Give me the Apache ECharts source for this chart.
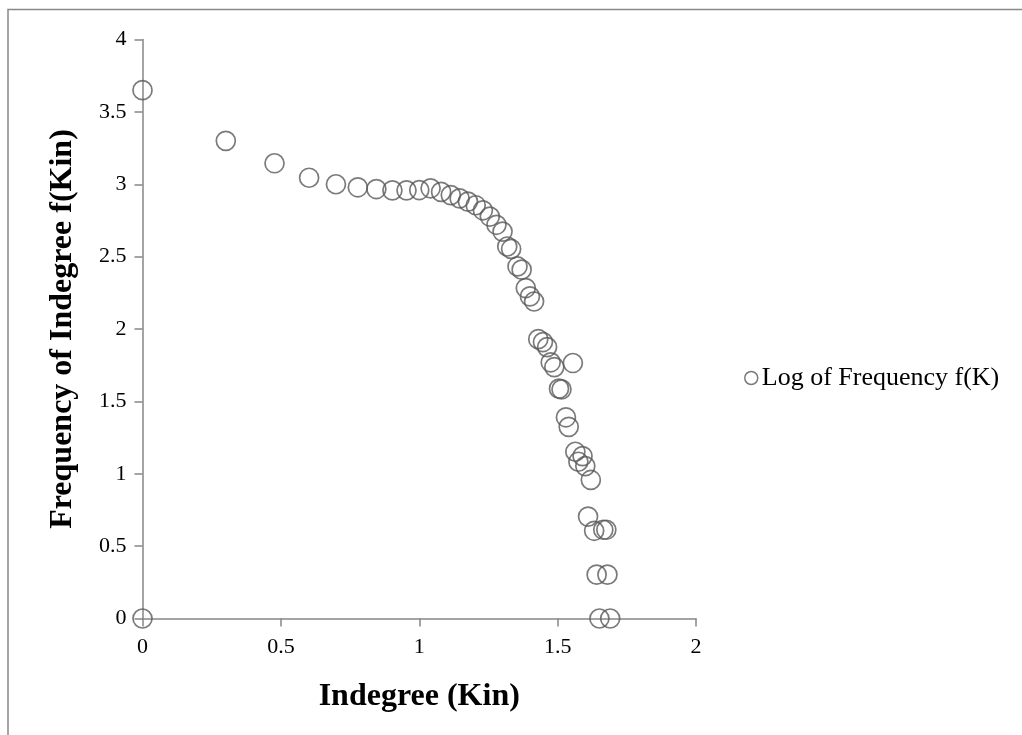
<!DOCTYPE html>
<html>
<head>
<meta charset="utf-8">
<script src="https://cdn.jsdelivr.net/npm/echarts@6/dist/echarts.min.js"></script>
<style>
  html, body { margin: 0; padding: 0; background: #fff; }
  #chart { width: 1022px; height: 735px; }
</style>
</head>
<body>
<div id="chart"></div>
<script>
// log10 of in-degree (Kin)
const indegreeLog = [
  0, 0.301, 0.477, 0.602, 0.699, 0.778, 0.845, 0.903, 0.954, 1.0,
  1.041, 1.079, 1.114, 1.146, 1.176, 1.204, 1.230, 1.255, 1.279, 1.301,
  1.318, 1.332, 1.355, 1.370, 1.385, 1.400, 1.415,
  1.430, 1.447, 1.462, 1.475, 1.488, 1.555, 1.505, 1.514, 1.530, 1.540,
  1.564, 1.590, 1.575, 1.600, 1.620, 1.610, 1.632, 1.665, 1.676, 1.641,
  1.680, 1.651, 1.690, 0
];
// log10 of the frequency of each in-degree
const frequencyLog = [
  3.65, 3.30, 3.145, 3.045, 3.0, 2.979, 2.967, 2.958, 2.958, 2.96,
  2.972, 2.947, 2.925, 2.902, 2.88, 2.855, 2.82, 2.777, 2.72, 2.673,
  2.57, 2.553, 2.432, 2.41, 2.283, 2.225, 2.19,
  1.93, 1.91, 1.875, 1.77, 1.737, 1.765, 1.588, 1.583, 1.39, 1.324,
  1.152, 1.122, 1.083, 1.053, 0.957, 0.704, 0.606, 0.613, 0.613, 0.303,
  0.303, 0, 0, 0
];
const seriesName = 'Log of Frequency f(K)';
const xTitle = 'Indegree (Kin)';
const yTitle = 'Frequency of Indegree f(Kin)';

const points = indegreeLog.map((x, i) => [x, frequencyLog[i]]);

const axisGray = '#868686';
const markGray = '#595959';
const serif = '"Liberation Serif", "Times New Roman", serif';

const chart = echarts.init(document.getElementById('chart'));
chart.setOption({
  backgroundColor: '#ffffff',
  animation: false,
  grid: { left: 142.5, right: 326, top: 39.5, bottom: 116.5 },
  graphic: [{
    type: 'rect',
    shape: { x: 8, y: 9.5, width: 1040, height: 760 },
    style: { fill: 'none', stroke: '#888888', lineWidth: 1.5 },
    silent: true
  }],
  legend: {
    data: [seriesName],
    left: 739,
    top: 360,
    icon: 'circle',
    itemWidth: 13,
    itemHeight: 13,
    itemGap: 2,
    textStyle: { fontFamily: serif, fontSize: 26, color: '#000', padding: [0, 0, 0, -1] },
    itemStyle: { color: 'rgba(0,0,0,0)', borderColor: markGray, borderWidth: 1.5 }
  },
  xAxis: {
    type: 'value',
    min: 0, max: 2, interval: 0.5,
    name: xTitle,
    nameLocation: 'middle',
    nameGap: 62,
    nameTextStyle: { fontFamily: serif, fontSize: 32, fontWeight: 'bold', color: '#000' },
    axisLine: { show: true, onZero: false, lineStyle: { color: axisGray, width: 1.5 } },
    axisTick: { show: true, length: 8, lineStyle: { color: axisGray, width: 1.5 } },
    axisLabel: { fontFamily: serif, fontSize: 22, color: '#000', margin: 18 },
    splitLine: { show: false }
  },
  yAxis: {
    type: 'value',
    min: 0, max: 4, interval: 0.5,
    name: yTitle,
    nameLocation: 'middle',
    nameGap: 64,
    nameRotate: 90,
    nameTextStyle: { fontFamily: serif, fontSize: 32, fontWeight: 'bold', color: '#000' },
    axisLine: { show: true, onZero: false, lineStyle: { color: axisGray, width: 1.5 } },
    axisTick: { show: true, length: 8, lineStyle: { color: axisGray, width: 1.5 } },
    axisLabel: { fontFamily: serif, fontSize: 22, color: '#000', margin: 16 },
    splitLine: { show: false }
  },
  series: [{
    name: seriesName,
    type: 'scatter',
    data: points,
    symbol: 'circle',
    symbolSize: 19,
    itemStyle: { color: 'rgba(0,0,0,0)', borderColor: markGray, borderWidth: 1.7 },
    emphasis: { disabled: true }
  }]
});
</script>
</body>
</html>
